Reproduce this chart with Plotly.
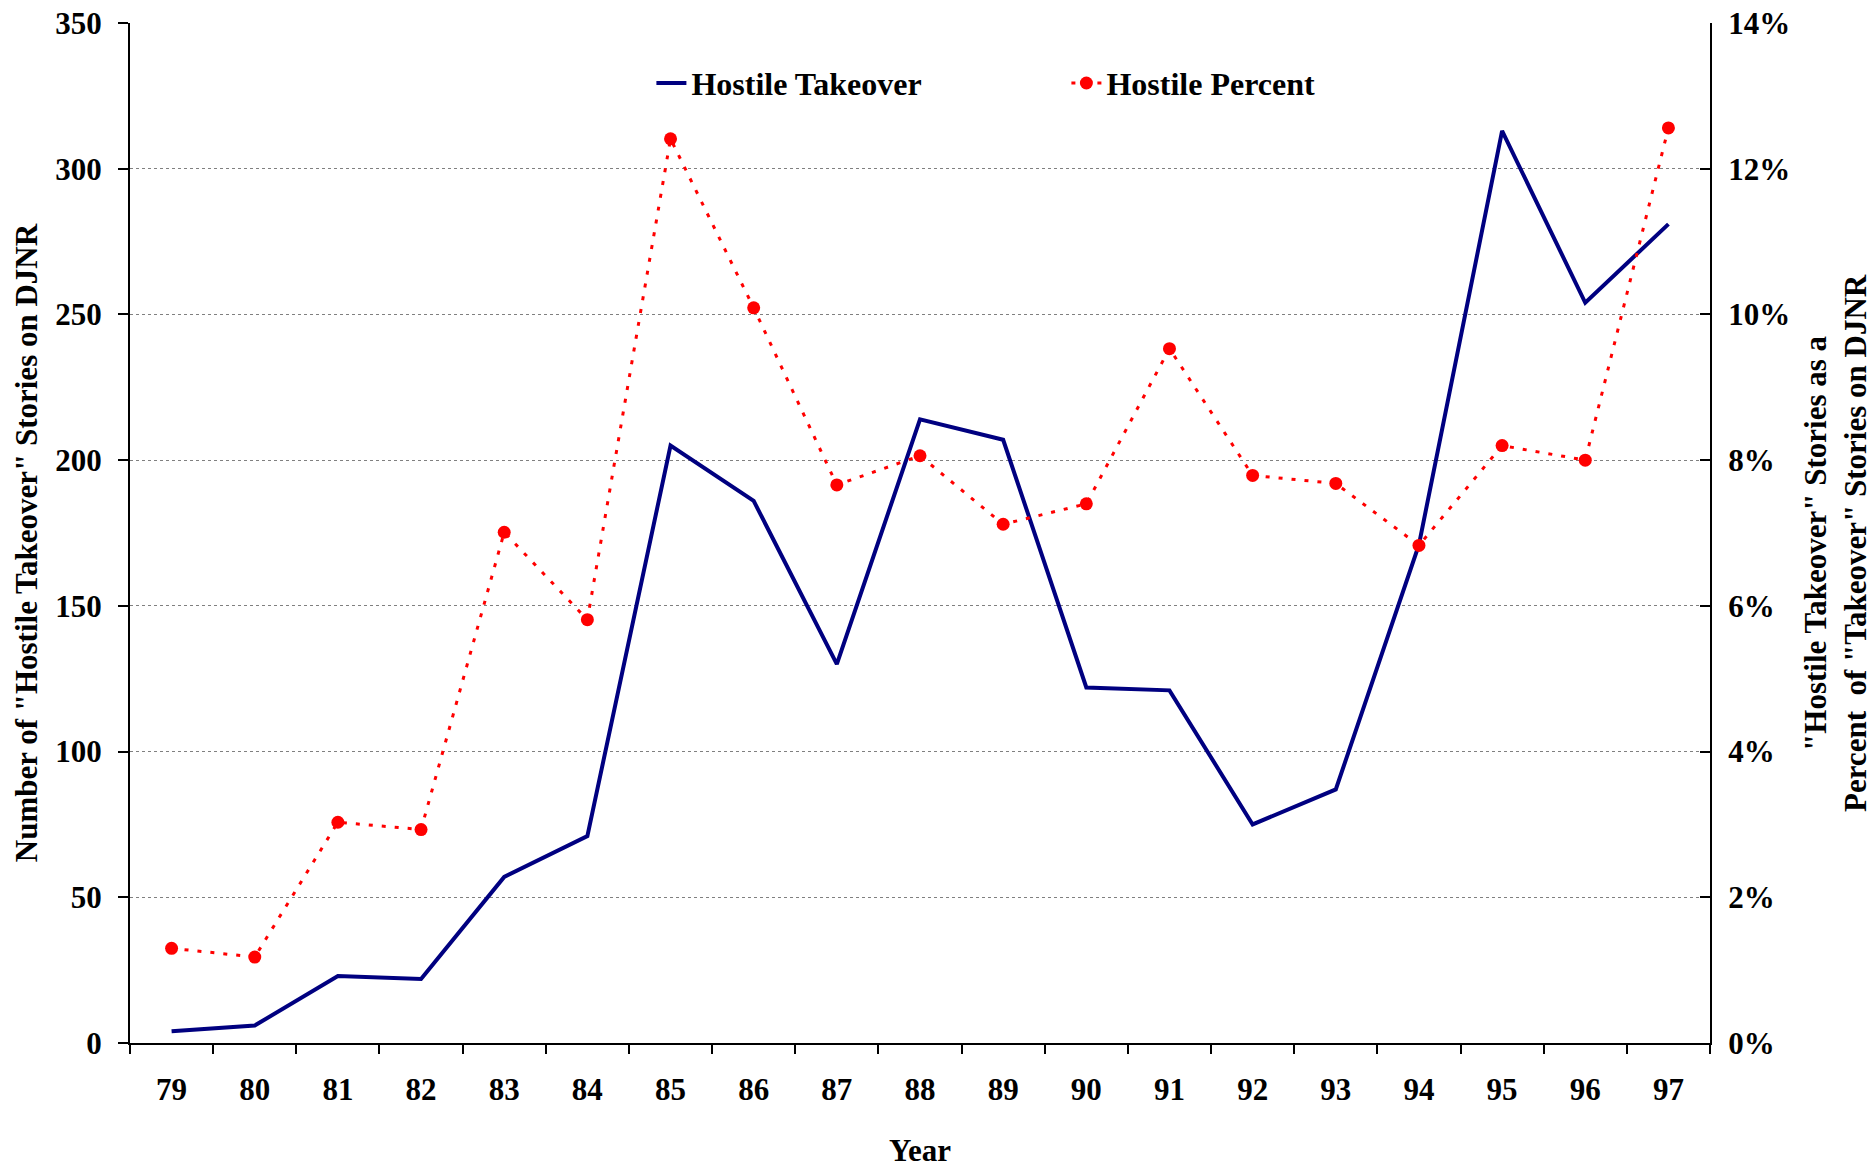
import plotly.graph_objects as go

years = ["79", "80", "81", "82", "83", "84", "85", "86", "87", "88",
         "89", "90", "91", "92", "93", "94", "95", "96", "97"]
hostile_takeover = [4, 6, 23, 22, 57, 71, 205, 186, 130, 214,
                    207, 122, 121, 75, 87, 171, 313, 254, 281]
hostile_percent = [0.0130, 0.0118, 0.0303, 0.0293, 0.0701, 0.0581, 0.1241, 0.1009, 0.0766, 0.0806,
                   0.0712, 0.0740, 0.0953, 0.0779, 0.0768, 0.0683, 0.0820, 0.0800, 0.1256]

FONT = "Liberation Serif"

fig = go.Figure()
fig.add_trace(go.Scatter(
    x=years, y=hostile_takeover, name="Hostile Takeover", mode="lines",
    line=dict(color="#000080", width=4), yaxis="y"))
fig.add_trace(go.Scatter(
    x=years, y=hostile_percent, name="Hostile Percent", mode="lines+markers",
    line=dict(color="#ff0000", width=3, dash="4px,9px"),
    marker=dict(color="#ff0000", size=13), yaxis="y2"))

tickfont = dict(family=FONT, size=31, color="black", weight="bold")

fig.update_layout(
    width=1873, height=1168,
    margin=dict(l=130, r=163, t=23, b=125),
    paper_bgcolor="white", plot_bgcolor="white",
    font=dict(family=FONT, color="black"),
    showlegend=True,
    legend=dict(orientation="h", x=0.33, y=0.941, xanchor="left", yanchor="middle",
                font=dict(family=FONT, size=32, color="black", weight="bold"),
                bgcolor="rgba(0,0,0,0)", entrywidth=370),
    xaxis=dict(type="category", range=[-0.5, 18.5], tickson="boundaries", ticks="outside",
               ticklen=9, tickwidth=2, automargin=False,
               tickcolor="black", showline=True, linecolor="black", linewidth=2,
               showgrid=False, tickfont=tickfont, ticklabelstandoff=18),
    yaxis=dict(range=[0, 350], dtick=50, ticks="outside", ticklen=10, tickwidth=2,
               tickcolor="black", showline=True, linecolor="black", linewidth=2, automargin=False,
               showgrid=True, gridcolor="#808080", gridwidth=1, griddash="dot",
               zeroline=False, tickfont=tickfont, ticklabelstandoff=10),
    yaxis2=dict(range=[0, 0.14], dtick=0.02, tickformat=".0%", overlaying="y", side="right",
                ticks="inside", ticklen=10, tickwidth=2, tickcolor="black", automargin=False,
                showline=True, linecolor="black", linewidth=2, showgrid=False,
                zeroline=False, tickfont=tickfont, ticklabelstandoff=10),
)

fig.add_annotation(text="<b>Number of \"Hostile Takeover\" Stories on DJNR</b>",
                   xref="paper", yref="paper", x=-0.0658, y=0.49, xanchor="center", yanchor="middle",
                   textangle=-90, showarrow=False, font=dict(family=FONT, size=31, color="black"))
fig.add_annotation(text="<b>\"Hostile Takeover\" Stories as a<br>Percent  of \"Takeover\" Stories on DJNR</b>",
                   xref="paper", yref="paper", x=1.079, y=0.49, xanchor="center", yanchor="middle",
                   textangle=-90, showarrow=False, font=dict(family=FONT, size=31, color="black"))
fig.add_annotation(text="<b>Year</b>",
                   xref="paper", yref="paper", x=0.5, y=-0.105, xanchor="center", yanchor="middle",
                   showarrow=False, font=dict(family=FONT, size=31, color="black"))

fig.write_html("out.html", config={"displayModeBar": False},
               post_script="document.body.style.margin='0';document.body.style.overflow='hidden';")
